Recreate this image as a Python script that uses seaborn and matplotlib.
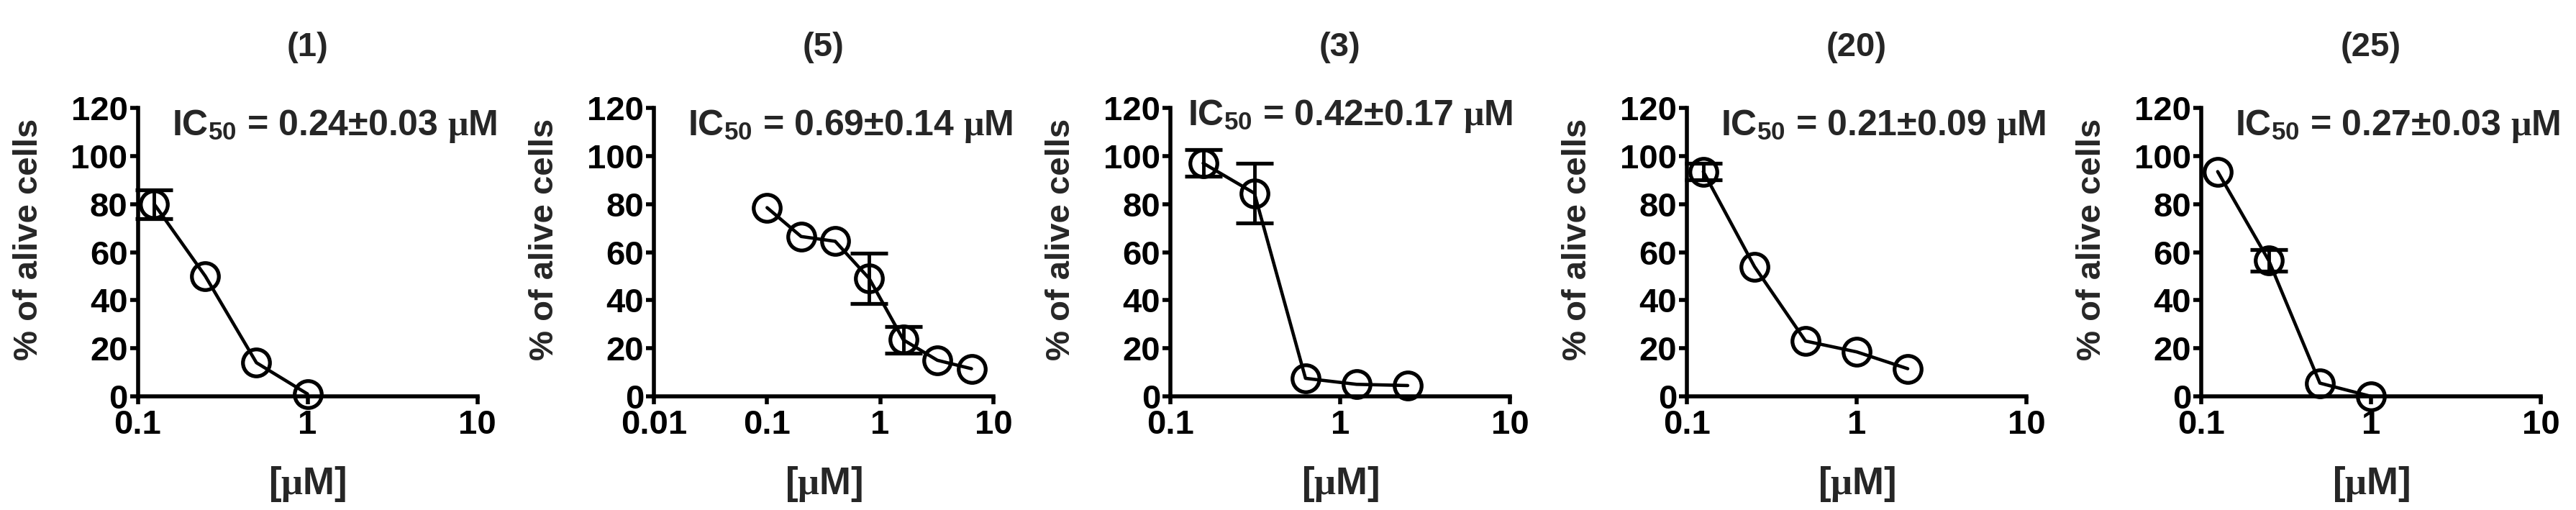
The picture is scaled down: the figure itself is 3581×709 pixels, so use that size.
import numpy as np
import pandas as pd
import matplotlib
matplotlib.use("Agg")
import matplotlib.pyplot as plt
import seaborn as sns

# ---- data ----
titles = ["(1)", "(5)", "(3)", "(20)", "(25)"]
ic50_labels = ["0.24±0.03", "0.69±0.14", "0.42±0.17", "0.21±0.09", "0.27±0.03"]

# error bars of 0 are hidden behind the symbol in the reference
conc_1 = [0.125, 0.25, 0.5, 1.0]
alive_1 = [80, 50, 14, 1]
err_1 = [6, 0, 0, 0]

conc_5 = [0.1, 0.2, 0.4, 0.8, 1.6, 3.2, 6.4]
alive_5 = [78.5, 66.5, 64.5, 49, 23.5, 15, 11.5]
err_5 = [0, 0, 0, 10.5, 5.5, 0, 0]

conc_3 = [0.156, 0.3125, 0.625, 1.25, 2.5]
alive_3 = [97, 84.5, 7.5, 5, 4.5]
err_3 = [5.5, 12.5, 0, 0, 0]

conc_20 = [0.125, 0.25, 0.5, 1.0, 2.0]
alive_20 = [93.5, 54, 23, 18.5, 11.5]
err_20 = [3.5, 0, 0, 0, 0]

conc_25 = [0.125, 0.25, 0.5, 1.0]
alive_25 = [93.5, 56.5, 5.5, 0]
err_25 = [0, 4.5, 0, 0]

xmins = [0.1, 0.01, 0.1, 0.1, 0.1]
y_ticks = [0, 20, 40, 60, 80, 100, 120]

series = [(conc_1, alive_1, err_1), (conc_5, alive_5, err_5), (conc_3, alive_3, err_3),
          (conc_20, alive_20, err_20), (conc_25, alive_25, err_25)]

# ---- style ----
sns.set_theme(style="ticks")
plt.rcParams["font.family"] = ["Liberation Sans", "DejaVu Sans"]
plt.rcParams["font.weight"] = "bold"
plt.rcParams["mathtext.fontset"] = "custom"
plt.rcParams["mathtext.rm"] = "Liberation Sans:bold"
plt.rcParams["mathtext.bf"] = "Liberation Sans:bold"
plt.rcParams["mathtext.it"] = "Liberation Serif"

W, H = 3581, 709
fig = plt.figure(figsize=(W / 100, H / 100), dpi=100)

lefts_px = [191.5, 909, 1627, 2345, 3060]
ax_w_px = 472
top_px, bot_px = 150, 551
text_pos = [(0.10, 0.905), (0.10, 0.905), (0.05, 0.94), (0.10, 0.905), (0.10, 0.905)]

for i, (conc, alive, err) in enumerate(series):
    ax = fig.add_axes([lefts_px[i] / W, 1 - bot_px / H, ax_w_px / W, (bot_px - top_px) / H])
    df = pd.DataFrame({"conc": conc, "alive": alive, "err": err})
    sns.lineplot(data=df, x="conc", y="alive", ax=ax, color="black", lw=3.3,
                 marker="o", markersize=27, markerfacecolor="none",
                 markeredgecolor="black", markeredgewidth=3.8, clip_on=False)
    vis = df[df["err"] > 0]
    if len(vis):
        ax.errorbar(vis["conc"], vis["alive"], yerr=vis["err"], fmt="none", ecolor="black",
                    elinewidth=3.5, capsize=19, capthick=3.8, clip_on=False)
    ax.set_xscale("log")
    ax.set_xlim(xmins[i], 10)
    ax.set_ylim(0, 120)
    decades = [10.0 ** k for k in range(int(np.log10(xmins[i])), 2)]
    ax.set_xticks(decades)
    ax.set_xticklabels([("%g" % d) for d in decades])
    ax.xaxis.set_minor_locator(matplotlib.ticker.NullLocator())
    ax.set_yticks(y_ticks)
    ax.set_yticklabels([str(t) for t in y_ticks])
    sns.despine(ax=ax)
    for s in ["left", "bottom"]:
        ax.spines[s].set_linewidth(4)
        ax.spines[s].set_color("black")
    ax.tick_params(axis="both", which="major", direction="out", length=8, width=4,
                   color="black", labelsize=34, labelcolor="black")
    ax.tick_params(axis="x", pad=5)
    ax.tick_params(axis="y", pad=2)
    ax.set_title(titles[i], fontsize=34, fontweight="bold", pad=52)
    ax.set_xlabel(r"[$\mu$M]", fontsize=38, fontweight="bold", labelpad=24)
    ax.set_ylabel("% of alive cells", fontsize=34, fontweight="bold")
    ax.yaxis.set_label_coords(-0.275, 0.545)
    tx, ty = text_pos[i]
    ax.text(tx, ty, r"IC$_{50}$ = " + ic50_labels[i] + r" $\mu$M", transform=ax.transAxes,
            fontsize=36, fontweight="bold", ha="left", va="baseline")

fig.savefig("out.png", dpi=100, facecolor="white")
